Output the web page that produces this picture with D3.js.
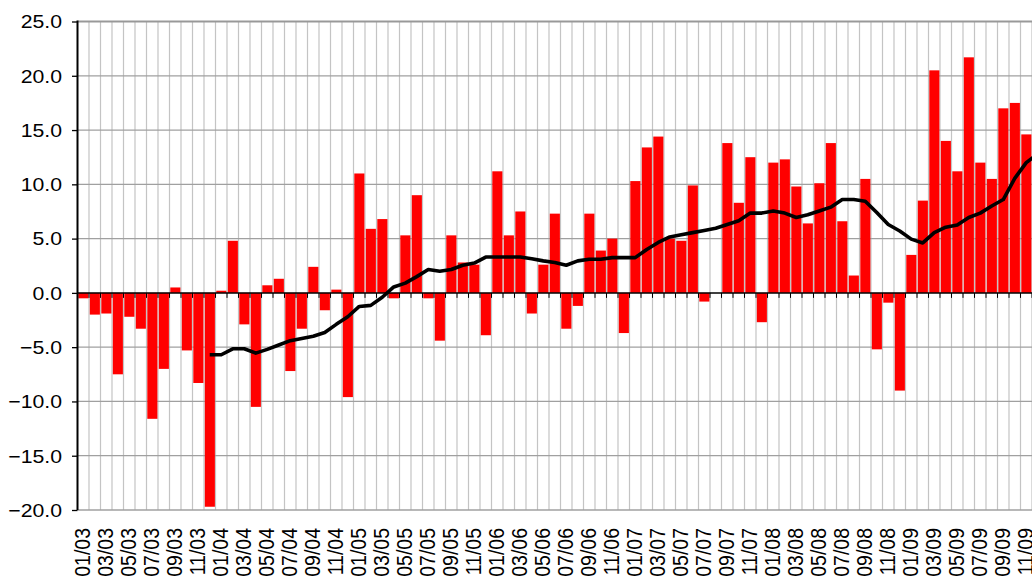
<!DOCTYPE html>
<html><head><meta charset="utf-8">
<script src="https://cdn.jsdelivr.net/npm/d3@7"></script>
<style>
html,body{margin:0;padding:0;background:#fff;overflow:hidden;}
text{font-family:"Liberation Sans",Arial,sans-serif;fill:#000;}
</style></head>
<body>
<svg id="chart" width="1032" height="581"></svg>
<script>
const months = [
"01/03","02/03","03/03","04/03","05/03","06/03","07/03","08/03","09/03","10/03","11/03","12/03",
"01/04","02/04","03/04","04/04","05/04","06/04","07/04","08/04","09/04","10/04","11/04","12/04",
"01/05","02/05","03/05","04/05","05/05","06/05","07/05","08/05","09/05","10/05","11/05","12/05",
"01/06","02/06","03/06","04/06","05/06","06/06","07/06","08/06","09/06","10/06","11/06","12/06",
"01/07","02/07","03/07","04/07","05/07","06/07","07/07","08/07","09/07","10/07","11/07","12/07",
"01/08","02/08","03/08","04/08","05/08","06/08","07/08","08/08","09/08","10/08","11/08","12/08",
"01/09","02/09","03/09","04/09","05/09","06/09","07/09","08/09","09/09","10/09","11/09","12/09"];

const monthlyValues = [
-0.5,-2.0,-1.9,-7.5,-2.2,-3.3,-11.6,-7.0,0.5,-5.3,-8.3,-19.7,
0.2,4.8,-2.9,-10.5,0.7,1.3,-7.2,-3.3,2.4,-1.6,0.3,-9.6,
11.0,5.9,6.8,-0.5,5.3,9.0,-0.5,-4.4,5.3,2.8,2.6,-3.9,
11.2,5.3,7.5,-1.9,2.6,7.3,-3.3,-1.2,7.3,3.9,5.0,-3.7,
10.3,13.4,14.4,5.0,4.8,9.9,-0.8,0,13.8,8.3,12.5,-2.7,
12.0,12.3,9.8,6.4,10.1,13.8,6.6,1.6,10.5,-5.2,-0.9,-9.0,
3.5,8.5,20.5,14.0,11.2,21.7,12.0,10.5,17.0,17.5,14.6,null];

const averageValues = [
null,null,null,null,null,null,null,null,null,null,null,-5.7,
-5.7,-5.15,-5.15,-5.55,-5.2,-4.8,-4.4,-4.2,-4.0,-3.65,-2.9,-2.2,
-1.25,-1.15,-0.4,0.55,0.9,1.5,2.15,2.0,2.15,2.55,2.75,3.3,
3.3,3.3,3.3,3.15,2.95,2.8,2.55,2.95,3.1,3.1,3.25,3.25,
3.25,4.0,4.65,5.15,5.35,5.55,5.75,5.95,6.3,6.65,7.35,7.35,
7.55,7.35,6.95,7.2,7.55,7.9,8.6,8.6,8.45,7.4,6.3,5.7,
4.95,4.6,5.55,6.05,6.25,6.95,7.35,8.0,8.6,10.55,12.0,12.8];

const yTicks = [-20,-15,-10,-5,0,5,10,15,20,25];

const svg = d3.select("#chart");
const left = 77.5, band = 11.5;
const x = d3.scaleBand().domain(months).range([left, left + band*months.length]).padding(0);
const y = d3.scaleLinear().domain([-20,25]).range([510,21.5]);
const y0 = y(0);

// vertical gridlines at category boundaries
svg.append("g").selectAll("line").data(months.slice(1)).join("line")
  .attr("x1", d=>x(d)).attr("x2", d=>x(d))
  .attr("y1", y(25)).attr("y2", y(-20))
  .attr("stroke","#c4c4c4").attr("stroke-width",1.2);

// horizontal gridlines
svg.append("g").selectAll("line").data(yTicks.filter(t=>t!==0 && t!==25)).join("line")
  .attr("x1", left).attr("x2", 1032)
  .attr("y1", d=>y(d)).attr("y2", d=>y(d))
  .attr("stroke","#a0a0a0").attr("stroke-width",1.3);
svg.append("line").attr("x1",left).attr("x2",1032).attr("y1",y(25)).attr("y2",y(25))
  .attr("stroke","#999").attr("stroke-width",2);

// bars
const barData = months.map((m,i)=>({m, v: monthlyValues[i]})).filter(d=>d.v!==null);
svg.append("g").selectAll("rect").data(barData).join("rect")
  .attr("x", d=>x(d.m)+0.8)
  .attr("width", x.bandwidth()-1.4)
  .attr("y", d=>Math.min(y(d.v), y0))
  .attr("height", d=>Math.abs(y(d.v)-y0))
  .attr("fill","#ff0000");

// zero axis with ticks at category boundaries
svg.append("line").attr("x1",left).attr("x2",1032).attr("y1",y0).attr("y2",y0)
  .attr("stroke","#000").attr("stroke-width",1.5);
svg.append("g").selectAll("line").data(months.slice(1)).join("line")
  .attr("x1", d=>x(d)).attr("x2", d=>x(d))
  .attr("y1", y0).attr("y2", y0+5)
  .attr("stroke","#000").attr("stroke-width",1);

// average line
const lineData = months.map((m,i)=>({m, v: averageValues[i]})).filter(d=>d.v!==null);
svg.append("path").datum(lineData)
  .attr("d", d3.line().x(d=>x(d.m)+x.bandwidth()/2).y(d=>y(d.v)))
  .attr("fill","none").attr("stroke","#000").attr("stroke-width",3.6)
  .attr("stroke-linejoin","round").attr("stroke-linecap","butt");

// left axis
const yAxis = svg.append("g").attr("transform",`translate(${left},0)`)
  .call(d3.axisLeft(y).tickValues(yTicks).tickSize(5.5).tickFormat(()=>""));
yAxis.select(".domain").attr("stroke","#000").attr("stroke-width",2)
  .attr("d", `M0,${y(25)-1}V${y(-20)}`);
yAxis.selectAll(".tick line").attr("stroke","#000").attr("stroke-width",1.3);

svg.append("g").selectAll("text").data(yTicks).join("text")
  .attr("transform", d=>`translate(62,${y(d)}) scale(1.13,1)`)
  .attr("text-anchor","end").attr("dy","0.36em")
  .style("font-size","18.8px")
  .text(d=>d3.format(".1f")(d));

// x labels every second month
svg.append("g").selectAll("text").data(months.filter((m,i)=>i%2===0)).join("text")
  .attr("transform", d=>`translate(${x(d)+x.bandwidth()/2-0.5},528) scale(1.1,1) rotate(-90)`)
  .attr("text-anchor","end").attr("dy","0.36em")
  .style("font-size","19.5px")
  .text(d=>d);
</script>
</body></html>
